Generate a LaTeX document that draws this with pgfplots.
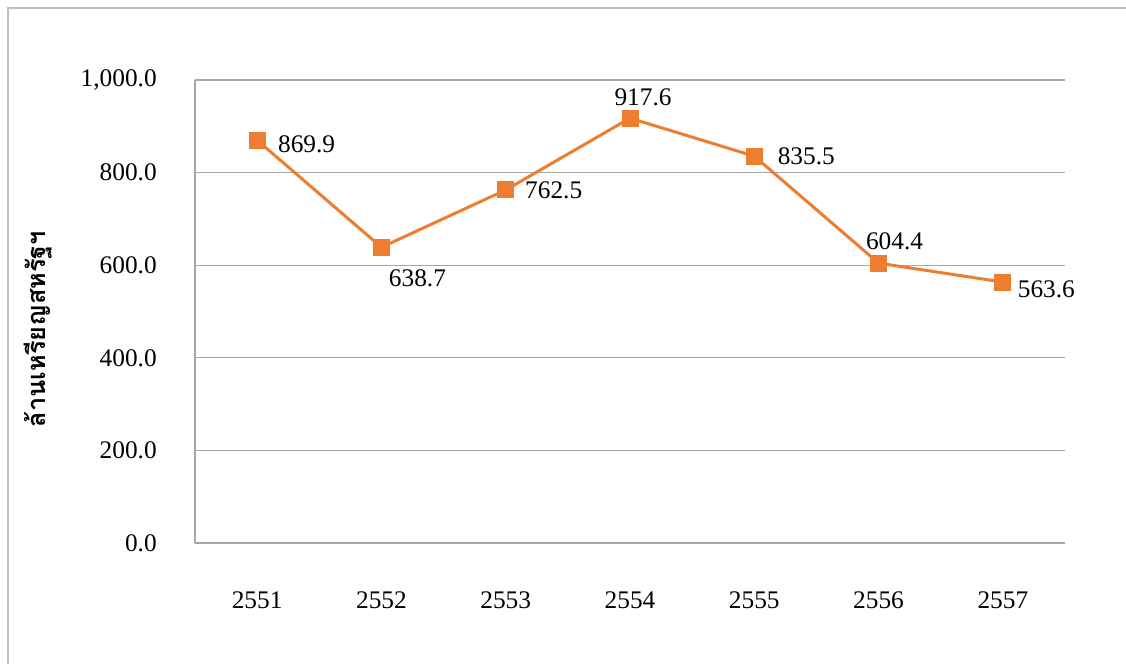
\documentclass[border=0pt]{standalone}
\usepackage{pgfplots}
\pgfplotsset{compat=1.18}
\usepackage{pgfplotstable}
\usepackage{fontspec}
\setmainfont{Liberation Serif}
\newfontfamily\thaifont[Script=Thai]{Loma}
\definecolor{lineor}{HTML}{ED7D31}
\definecolor{gridg}{HTML}{A6A6A6}
\definecolor{frameg}{HTML}{BFBFBF}
\pgfplotstableread{
x y dx dy
0 869.9 49.5 -4
1 638.7 36 -31
2 762.5 48 0
3 917.6 13 21
4 835.5 52 0
5 604.4 16 22
6 563.6 43.5 -7
}\datatab
\begin{document}
\begin{tikzpicture}
\useasboundingbox (0,0) rectangle (844.5pt,498pt);
\draw[frameg, line width=1.5pt] (6pt,0) -- (6pt,492pt) -- (844.5pt,492pt);
\begin{axis}[
  at={(146.25pt,90.75pt)}, anchor=south west,
  scale only axis, width=652.5pt, height=347.25pt,
  xmin=-0.5, xmax=6.5, ymin=0, ymax=1000,
  xtick={0,...,6},
  xticklabels={2551,2552,2553,2554,2555,2556,2557},
  ytick={0,200,400,600,800,1000},
  major tick length=0pt,
  axis x line=bottom, axis y line=left,
  axis line style={-, gridg, line width=1pt},
  ymajorgrids, grid style={gridg, line width=1pt},
  /pgf/number format/assume math mode=true,
  y tick label style={/pgf/number format/fixed, /pgf/number format/fixed zerofill, /pgf/number format/precision=1, /pgf/number format/1000 sep={,}},
  tick label style={font=\fontsize{19}{22}\selectfont, inner sep=0pt},
  yticklabel style={anchor=east, xshift=-28.5pt},
  xticklabel style={anchor=center, yshift=-42.75pt},
  ylabel={\thaifont\bfseries ล้านเหรียญสหรัฐฯ},
  ylabel style={at={(axis description cs:-0.1805,0.462)}, anchor=center, font=\fontsize{19}{22}\selectfont},
  clip=false,
]
\addplot[lineor, line width=2.25pt, mark=square*, mark size=5.25pt,
  mark options={lineor, solid},
  visualization depends on={\thisrow{dx}\as\dxv},
  visualization depends on={\thisrow{dy}\as\dyv},
  point meta=explicit,
  nodes near coords={\pgfmathprintnumber[fixed, fixed zerofill, precision=1, assume math mode=true]{\pgfplotspointmeta}},
  every node near coord/.append style={font=\fontsize{19}{22}\selectfont, text=black, anchor=center, inner sep=0pt, xshift={\dxv*0.75pt}, yshift={\dyv*0.75pt}},
] table[x=x, y=y, meta=y] {\datatab};
\end{axis}
\end{tikzpicture}
\end{document}
